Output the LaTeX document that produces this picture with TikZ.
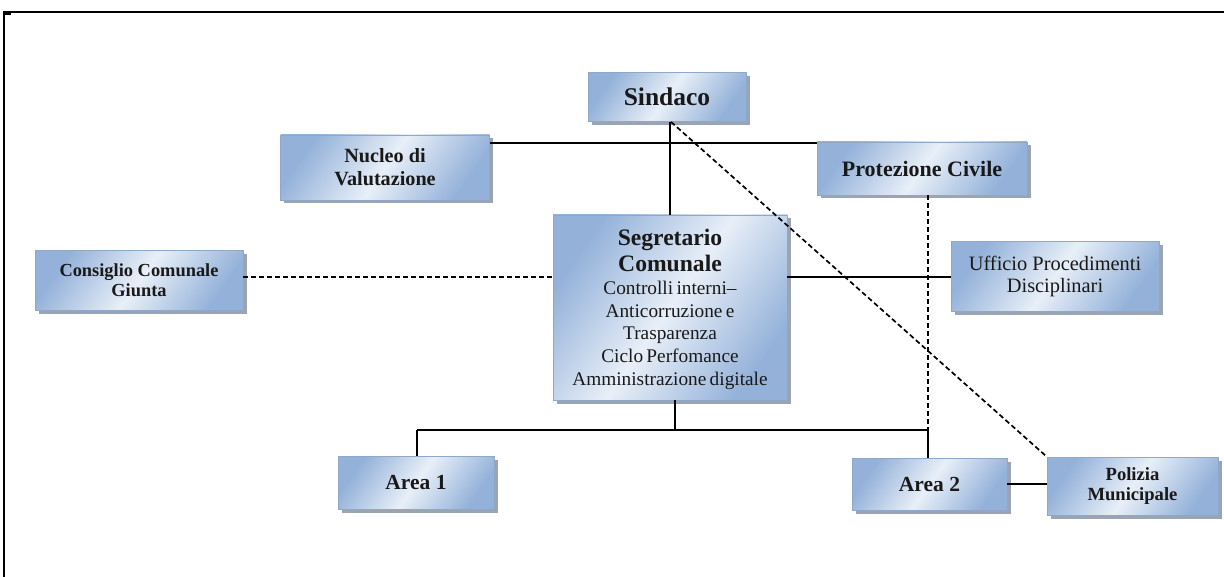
\documentclass[tikz,border=0pt]{standalone}
\usepackage{fontspec}
\setmainfont{Liberation Serif}
\usetikzlibrary{shadows}
\definecolor{boxdark}{HTML}{93B1D9}
\definecolor{boxlight}{HTML}{E8EFF8}
\definecolor{boxborder}{HTML}{8FA8C8}
\definecolor{boxshadow}{HTML}{9AA4B2}
\tikzset{
  orgbox/.style={draw=boxborder, line width=0.8pt, inner sep=2pt, align=center,
    left color=boxdark, right color=boxdark, middle color=boxlight, shading angle=55,
    drop shadow={shadow xshift=3.5pt, shadow yshift=-3.5pt, fill=boxshadow, opacity=1},
    text=black!90},
  link/.style={draw=black, line width=1.3pt},
  dlink/.style={draw=black, line width=1.7pt, dash pattern=on 5pt off 3pt},
  frameline/.style={draw=black, line width=1.3pt}
}
\begin{document}
\begin{tikzpicture}[x=1pt, y=-1pt]
\useasboundingbox (0,0) rectangle (1224,577);
% frame
\draw[frameline] (3,12) -- (1224,12);
\draw[frameline] (4,12) -- (4,577);
\draw[line width=2.5pt] (4,13.5) -- (11,13.5);

% nodes
\node[orgbox, minimum width=158pt, minimum height=49pt,
  font=\fontsize{25.5}{28}\selectfont\bfseries] (sindaco) at (667,97) {Sindaco};
\node[orgbox, minimum width=209pt, minimum height=65pt,
  font=\fontsize{20.2}{23}\selectfont\bfseries] (nucleo) at (385,167.5) {Nucleo di\\Valutazione};
\node[orgbox, minimum width=210pt, minimum height=53pt,
  font=\fontsize{22}{24}\selectfont\bfseries] (protez) at (922,168.5) {Protezione Civile};
\node[orgbox, minimum width=234pt, minimum height=185pt, text width=230pt] (segr) at (670,307.5)
  {{\fontsize{23.6}{26}\selectfont\bfseries\rule{0pt}{20pt}Segretario\par Comunale\par}%
   {\fontsize{19.3}{22.7}\selectfont Controlli interni–\par Anticorruzione e\par Trasparenza\par
    Ciclo Perfomance\par Amministrazione digitale\par}};
\node[orgbox, minimum width=208pt, minimum height=60pt,
  font=\fontsize{18.4}{20}\selectfont\bfseries] (consiglio) at (139,280.5) {Consiglio Comunale\\Giunta};
\node[orgbox, minimum width=208pt, minimum height=70pt,
  font=\fontsize{20.4}{22}\selectfont] (ufficio) at (1055,276.5) {Ufficio Procedimenti\\Disciplinari};
\node[orgbox, minimum width=156pt, minimum height=53pt,
  font=\fontsize{21.5}{23}\selectfont\bfseries] (area1) at (416,482.5) {Area 1};
\node[orgbox, minimum width=155pt, minimum height=52pt,
  font=\fontsize{21.5}{23}\selectfont\bfseries] (area2) at (929.5,484) {Area 2};
\node[orgbox, minimum width=171pt, minimum height=58pt,
  font=\fontsize{18.6}{20}\selectfont\bfseries] (polizia) at (1132.5,486) {Polizia\\Municipale};

% helper coordinates
\coordinate (ytop) at (0,143);
\coordinate (ymid) at (0,277);
\coordinate (ybus) at (0,430);
\coordinate (xsegbot) at (675,0);
\coordinate (xa1) at (417,0);
\coordinate (xa2) at (928,0);

% connectors
\draw[link] (nucleo.east |- ytop) -- (protez.west |- ytop);
\draw[link] (sindaco.south -| segr.north) -- (segr.north);
\draw[dlink] ([xshift=4pt]sindaco.south) -- (polizia.north west);
\draw[dlink] (protez.south -| xa2) -- (area2.north -| xa2);
\draw[link] (segr.east |- ymid) -- (ufficio.west |- ymid);
\draw[dlink] (consiglio.east |- ymid) -- (segr.west |- ymid);
\draw[link] (segr.south -| xsegbot) -- (xsegbot |- ybus);
\draw[link] (xa1 |- ybus) -- (xa2 |- ybus);
\draw[link] (xa1 |- ybus) -- (area1.north -| xa1);
\draw[link] (xa2 |- ybus) -- (area2.north -| xa2);
\draw[link] (area2.east) -- (polizia.west |- area2.east);
\end{tikzpicture}
\end{document}
